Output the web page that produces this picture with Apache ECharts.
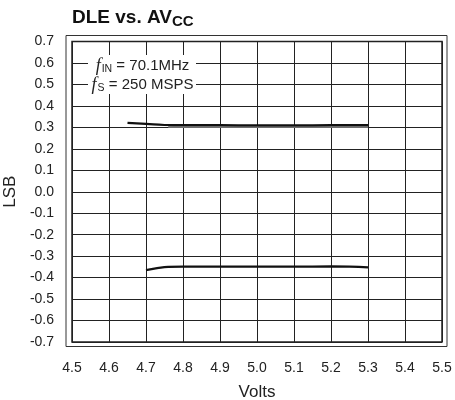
<!DOCTYPE html>
<html><head><meta charset="utf-8">
<script src="https://cdn.jsdelivr.net/npm/echarts@6/dist/echarts.min.js"></script>
<style>html,body{margin:0;padding:0;background:#fff}#c{width:455px;height:400px}</style>
</head><body><div id="c"></div>
<script>
var xTicks = [4.5, 4.6, 4.7, 4.8, 4.9, 5.0, 5.1, 5.2, 5.3, 5.4, 5.5];
var yTicks = [-0.7, -0.6, -0.5, -0.4, -0.3, -0.2, -0.1, 0.0, 0.1, 0.2, 0.3, 0.4, 0.5, 0.6, 0.7];
var upperX = [4.65, 4.70, 4.75, 4.80, 4.90, 5.00, 5.10, 5.20, 5.30];
var upperY = [0.321, 0.316, 0.311, 0.310, 0.310, 0.309, 0.309, 0.310, 0.310];
var upper2X = [4.76, 4.80, 4.90, 5.00, 5.10, 5.20, 5.30];
var upper2Y = [0.304, 0.304, 0.304, 0.304, 0.304, 0.304, 0.304];
var lowerX = [4.70, 4.73, 4.76, 4.80, 4.90, 5.00, 5.10, 5.20, 5.25, 5.30];
var lowerY = [-0.365, -0.356, -0.350, -0.349, -0.349, -0.349, -0.349, -0.348, -0.349, -0.352];

function pairs(xs, ys){ return xs.map(function(x,i){ return [x, ys[i]]; }); }
function fmt(v){ return Math.abs(v) < 1e-9 ? '0.0' : v.toFixed(1); }

var chart = echarts.init(document.getElementById('c'), null, {renderer:'canvas'});
var FONT = 'Liberation Sans, Arial, sans-serif';
var subRich = {
  f: {fontFamily:'Liberation Serif, serif', fontStyle:'italic', fontSize:18, fill:'#222'},
  s: {fontFamily:FONT, fontSize:10.5, padding:[7,0,0,1], fill:'#222'},
  t: {fontFamily:FONT, fontSize:15, fill:'#222'}
};
chart.setOption({
  animation:false,
  backgroundColor:'#fff',
  title:{
    left:72, top:6, padding:0,
    text:'{a|DLE vs. AV}{b|CC}',
    textStyle:{rich:{
      a:{fontFamily:FONT, fontWeight:'bold', fontSize:19, color:'#111'},
      b:{fontFamily:FONT, fontWeight:'bold', fontSize:15, color:'#111', padding:[8,0,0,0]}
    }}
  },
  grid:{left:72, right:13, top:41.5, bottom:58, containLabel:false, outerBoundsMode:'none',
        show:true, borderColor:'#222', borderWidth:1.5, backgroundColor:'#fff'},
  xAxis:{
    type:'value', min:xTicks[0], max:xTicks[xTicks.length-1], interval:0.1,
    name:'Volts', nameLocation:'middle', nameGap:42,
    nameTextStyle:{fontFamily:FONT, fontSize:17, color:'#222'},
    axisLine:{show:false}, axisTick:{show:false},
    axisLabel:{margin:19, fontFamily:FONT, fontSize:14, color:'#222', formatter:fmt},
    splitLine:{show:true, lineStyle:{color:'#222', width:1}}
  },
  yAxis:{
    type:'value', min:yTicks[0], max:yTicks[yTicks.length-1], interval:0.1,
    name:'LSB', nameLocation:'middle', nameGap:50,
    nameTextStyle:{fontFamily:FONT, fontSize:17, color:'#222'},
    axisLine:{show:false}, axisTick:{show:false},
    axisLabel:{margin:18, fontFamily:FONT, fontSize:14, color:'#222', formatter:fmt},
    splitLine:{show:true, lineStyle:{color:'#222', width:1}}
  },
  series:[
    {type:'line', data:pairs(upper2X, upper2Y), showSymbol:false, smooth:true, lineStyle:{color:'#888', width:2.5}, z:3},
    {type:'line', data:pairs(upperX, upperY), showSymbol:false, smooth:true, lineStyle:{color:'#111', width:2.2}, z:4},
    {type:'line', data:pairs(lowerX, lowerY), showSymbol:false, smooth:true, lineStyle:{color:'#111', width:2.2}, z:4}
  ],
  graphic:[
    {type:'rect', z:100, shape:{x:66, y:35.5, width:381, height:311}, style:{fill:'none', stroke:'#333', lineWidth:1}},
    {type:'rect', z:100, shape:{x:88, y:55, width:108, height:39}, style:{fill:'#fff'}},
    {type:'text', z:101, x:142.5, y:66, style:{text:'{f|f}{s|IN}{t| = 70.1MHz}', rich:subRich, align:'center', verticalAlign:'middle', fill:'#222'}},
    {type:'text', z:101, x:142.5, y:85, style:{text:'{f|f}{s|S}{t| = 250 MSPS}', rich:subRich, align:'center', verticalAlign:'middle', fill:'#222'}}
  ]
});
</script></body></html>
